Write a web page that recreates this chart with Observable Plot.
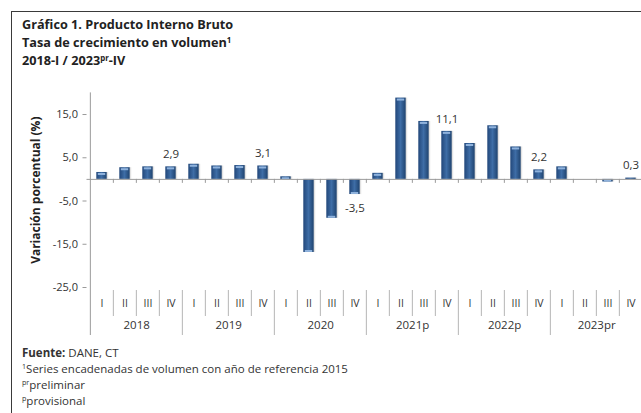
<!DOCTYPE html>
<html><head><meta charset="utf-8">
<script src="https://cdn.jsdelivr.net/npm/d3@7"></script>
<script src="https://cdn.jsdelivr.net/npm/@observablehq/plot@0.6"></script>
<style>
html,body{margin:0;padding:0;background:#fff}
body{width:641px;height:413px;overflow:hidden;position:relative;font-family:"Open Sans",sans-serif;color:#222}
#frame{position:absolute;left:11px;top:11px;width:720px;height:520px;border:1.5px solid #3a3a3a;box-sizing:border-box}
#title{position:absolute;left:22px;top:15px;font-weight:700;font-size:12.7px;line-height:18px;color:#222;white-space:nowrap}
#chart{position:absolute;left:0;top:80px}
#foot{position:absolute;left:22px;top:345px;font-size:11.5px;line-height:16px;color:#333;white-space:nowrap}
sup{font-size:0.62em;line-height:0;vertical-align:0.55em}
</style></head>
<body>
<div id="frame"></div>
<div id="title">Gráfico 1. Producto Interno Bruto<br>Tasa de crecimiento en volumen<sup>1</sup><br>2018-I / 2023<sup>pr</sup>-IV</div>
<div id="chart"></div>
<div id="foot"><b>Fuente:</b> DANE, CT<br><sup>1</sup>Series encadenadas de volumen con año de referencia 2015<br><sup>pr</sup>preliminar<br><sup>p</sup>provisional</div>
<script>
const years = ["2018", "2019", "2020", "2021p", "2022p", "2023pr"];
const quarters = ["I", "II", "III", "IV"];
const growth = [1.6, 2.7, 2.9, 2.9, 3.5, 3.1, 3.2, 3.1, 0.6, -16.9, -9.0, -3.5, 1.4, 18.8, 13.4, 11.1, 8.3, 12.4, 7.5, 2.2, 2.9, 0.0, -0.6, 0.3];
const labelQuarter = "IV";
const yTicks = [15, 5, -5, -15, -25];
const yDomain = [-25, 20];
const yAxisTitle = "Variación porcentual (%)";

const data = growth.map((v, i) => {
  const year = years[Math.floor(i / 4)], q = quarters[i % 4];
  return {year, q, key: year + "-" + q, value: v};
});
const keys = data.map(d => d.key);
const xRange = [86.5, 645.5];
const step = (xRange[1] - xRange[0]) / keys.length;
const barInset = 6.3;
const fmt = v => v.toFixed(1).replace(".", ",");
const labeled = data.filter(d => d.q === labelQuarter);
const grey = "#9a9a9a";

const defs = () => {
  const g = d3.create("svg:defs");
  const lg = g.append("linearGradient").attr("id", "barGrad").attr("x1", 0).attr("x2", 1).attr("y1", 0).attr("y2", 0);
  [[0, "#22477a"], [0.5, "#3e6da6"], [1, "#1f436f"]].forEach(([o, c]) => lg.append("stop").attr("offset", o).attr("stop-color", c));
  return g.node();
};

const chart = Plot.plot({
  width: 641, height: 265,
  marginTop: 12.4, marginBottom: 58, marginLeft: xRange[0], marginRight: 641 - xRange[1],
  x: {type: "band", domain: keys, range: xRange, padding: 0, axis: null},
  y: {domain: yDomain},
  style: {fontFamily: '"Open Sans", sans-serif', fontSize: "11px", color: "#333", background: "transparent", overflow: "visible"},
  marks: [
    defs,
    Plot.axisY(yTicks, {tickSize: 4, tickPadding: 5, tickFormat: fmt, label: null, stroke: grey, fill: "#333", fontSize: 11}),
    Plot.ruleX([keys[0]], {dx: -step / 2, insetBottom: -48, stroke: grey}),
    Plot.barY(data, {x: "key", y: "value", fill: "#cfcfcf", fillOpacity: 0.6, insetLeft: barInset + 1.5, insetRight: barInset - 1.5}),
    Plot.barY(data, {x: "key", y: "value", fill: "url(#barGrad)", insetLeft: barInset, insetRight: barInset}),
    Plot.tickY(data.filter(d => d.value >= 0.5), {x: "key", y: "value", dy: 1.5, stroke: "#8fb2dc", strokeWidth: 2, insetLeft: barInset + 1.5, insetRight: barInset + 1.5}),
    Plot.tickY(data.filter(d => d.value <= -0.5), {x: "key", y: "value", dy: -1.5, stroke: "#8fb2dc", strokeWidth: 2, insetLeft: barInset + 1.5, insetRight: barInset + 1.5}),
    Plot.ruleY([0], {stroke: grey}),
    Plot.ruleX(keys.slice(1), {dx: -step / 2, y1: 0, y2: 0, insetBottom: -4, stroke: grey}),
    Plot.ruleX(data.filter(d => d.q !== "I"), {x: "key", dx: -step / 2, y1: yDomain[0], y2: yDomain[0], insetTop: 3, insetBottom: -29, stroke: "#b5b5b5"}),
    Plot.ruleX(data.filter(d => d.q === "I" && d.year !== years[0]), {x: "key", dx: -step / 2, y1: yDomain[0], y2: yDomain[0], insetTop: 3, insetBottom: -48, stroke: "#b5b5b5"}),
    Plot.text(data, {x: "key", y: yDomain[0], text: "q", dy: 16.5, fill: "#333", fontSize: 10.5}),
    Plot.text(data.filter(d => d.q === "II"), {x: "key", y: yDomain[0], text: "year", dx: step / 2, dy: 37.5, fill: "#333", fontSize: 11.5}),
    Plot.text(labeled.filter(d => d.value >= 0), {x: "key", y: "value", text: d => fmt(d.value), dy: -12.5, fill: "#333", fontSize: 11.5}),
    Plot.text(labeled.filter(d => d.value < 0), {x: "key", y: "value", text: d => fmt(d.value), dy: 14, fill: "#333", fontSize: 11.5}),
    Plot.text([yAxisTitle], {frameAnchor: "left", textAnchor: "middle", dx: -51, rotate: -90, fontWeight: "bold", fontSize: 12, fill: "#222"})
  ]
});
document.getElementById("chart").appendChild(chart);
</script>
</body></html>
